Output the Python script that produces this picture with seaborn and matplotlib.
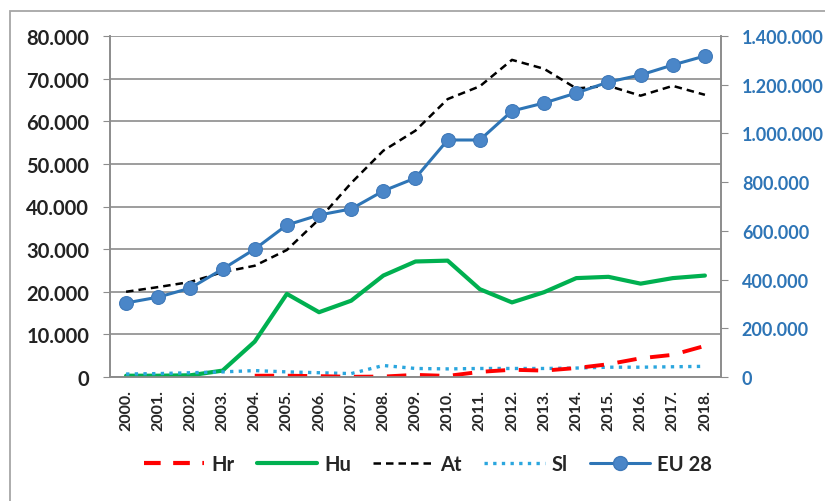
import matplotlib
matplotlib.use("Agg")
import matplotlib.pyplot as plt
import matplotlib.ticker as mticker
from matplotlib.patches import Rectangle
from matplotlib.lines import Line2D
import seaborn as sns
import numpy as np
import pandas as pd

# data
years = [f"{y}." for y in range(2000, 2019)]
hr = [np.nan, np.nan, np.nan, np.nan, 300, 300, 200, 50, 100, 500,
      250, 1200, 1700, 1500, 2100, 3000, 4400, 5200, 7300]
hu = [300, 300, 400, 1500, 8300, 19500, 15200, 17900, 23800, 27100,
      27300, 20600, 17500, 19900, 23200, 23500, 21900, 23200, 23800]
at = [20000, 21100, 22300, 24600, 26100, 29800, 37000, 45500, 53100, 57800,
      65200, 68200, 74400, 72300, 67700, 68300, 66000, 68300, 66200]
sl = [700, 800, 1000, 1200, 1500, 1200, 1000, 800, 2700, 2000,
      1900, 2000, 2000, 2000, 2100, 2300, 2300, 2400, 2500]
eu28 = [304000, 328000, 365000, 443000, 525000, 624000, 665000, 690000, 764000, 817000,
        973000, 973000, 1092000, 1125000, 1166000, 1211000, 1240000, 1281000, 1318000]

sns.set_style("white")
plt.rcParams['font.family'] = ['Lato', 'DejaVu Sans']

df = pd.DataFrame({"year": years, "Hr": hr, "Hu": hu, "At": at, "Sl": sl, "EU 28": eu28})
df["x"] = np.arange(len(years))

fig = plt.figure(figsize=(8.25, 5.02), dpi=100)
ax = fig.add_axes([110 / 825, 1 - 378 / 502, 611 / 825, 341 / 502])
ax2 = ax.twinx()

red = "#FF0000"
green = "#00B050"
sky = "#2BA6DE"
blue = "#2E75B6"

sns.lineplot(data=df, x="x", y="Hr", ax=ax, color=red, lw=2.8, zorder=4)
ax.lines[-1].set_dashes([5, 3.5])
sns.lineplot(data=df, x="x", y="Hu", ax=ax, color=green, lw=3.0, zorder=3)
sns.lineplot(data=df, x="x", y="At", ax=ax, color="black", lw=1.8, zorder=3)
ax.lines[-1].set_dashes([3, 2])
sns.lineplot(data=df, x="x", y="Sl", ax=ax, color=sky, lw=2.4, zorder=3)
ax.lines[-1].set_dashes([1, 1.6])
sns.lineplot(data=df, x="x", y="EU 28", ax=ax2, color=blue, lw=2.2,
             marker="o", markersize=10, markerfacecolor="#4A86C8",
             markeredgecolor="#3E78B8", zorder=5)

ax.set_xlim(-0.5, len(years) - 0.5)
ax.set_ylim(0, 80000)
ax2.set_ylim(0, 1400000)

def dotfmt(v, pos):
    return f"{int(round(v)):,}".replace(",", ".")

ax.yaxis.set_major_locator(mticker.MultipleLocator(10000))
ax.yaxis.set_major_formatter(mticker.FuncFormatter(dotfmt))
ax2.yaxis.set_major_locator(mticker.MultipleLocator(200000))
ax2.yaxis.set_major_formatter(mticker.FuncFormatter(dotfmt))

ax.set_xticks(df["x"])
ax.set_xticklabels(years, rotation=90, fontsize=11.5, fontweight="bold")
ax.set_xticks(np.arange(-0.5, len(years), 1.0), minor=True)
ax.tick_params(axis="x", which="major", length=0, pad=9)
ax.tick_params(axis="x", which="minor", length=5, color="#8C8C8C", direction="out")
ax.tick_params(axis="y", length=5, color="#8C8C8C", direction="out", pad=10)
for lab in ax.get_yticklabels():
    lab.set_fontsize(14.5)
    lab.set_fontweight("bold")
    lab.set_color("#222222")
ax2.tick_params(axis="y", length=5, color="#8C8C8C", direction="out", pad=10,
                labelsize=13, labelcolor=blue)
for lab in ax2.get_yticklabels():
    lab.set_fontweight("bold")

ax.grid(axis="y", color="#8C8C8C", lw=1.2)
ax.set_axisbelow(True)
ax.set_xlabel("")
ax.set_ylabel("")
ax2.set_ylabel("")
for a in (ax, ax2):
    a.spines["top"].set_visible(False)
    for s in ("left", "right", "bottom"):
        a.spines[s].set_color("#8C8C8C")
        a.spines[s].set_linewidth(1.2)

handles = [
    Line2D([], [], color=red, lw=3, dashes=[4, 3]),
    Line2D([], [], color=green, lw=3),
    Line2D([], [], color="black", lw=1.8, dashes=[3, 2]),
    Line2D([], [], color=sky, lw=2.4, dashes=[1, 1.6]),
    Line2D([], [], color=blue, lw=2.2, marker="o", markersize=10,
           markerfacecolor="#4A86C8", markeredgecolor="#3E78B8"),
]
fig.legend(handles, ["Hr", "Hu", "At", "Sl", "EU 28"], loc="center",
           bbox_to_anchor=(428 / 825, 1 - 465 / 502), ncol=5, frameon=False,
           handlelength=3.0, columnspacing=1.1, handletextpad=0.35,
           prop={"size": 14.5, "weight": "bold"})

fig.patches.append(Rectangle((10 / 825, -0.05), 1.0, 1 - 12 / 502 + 0.05,
                             transform=fig.transFigure, fill=False,
                             edgecolor="#A6A6A6", lw=1.3))

fig.savefig("out.png", dpi=100)
